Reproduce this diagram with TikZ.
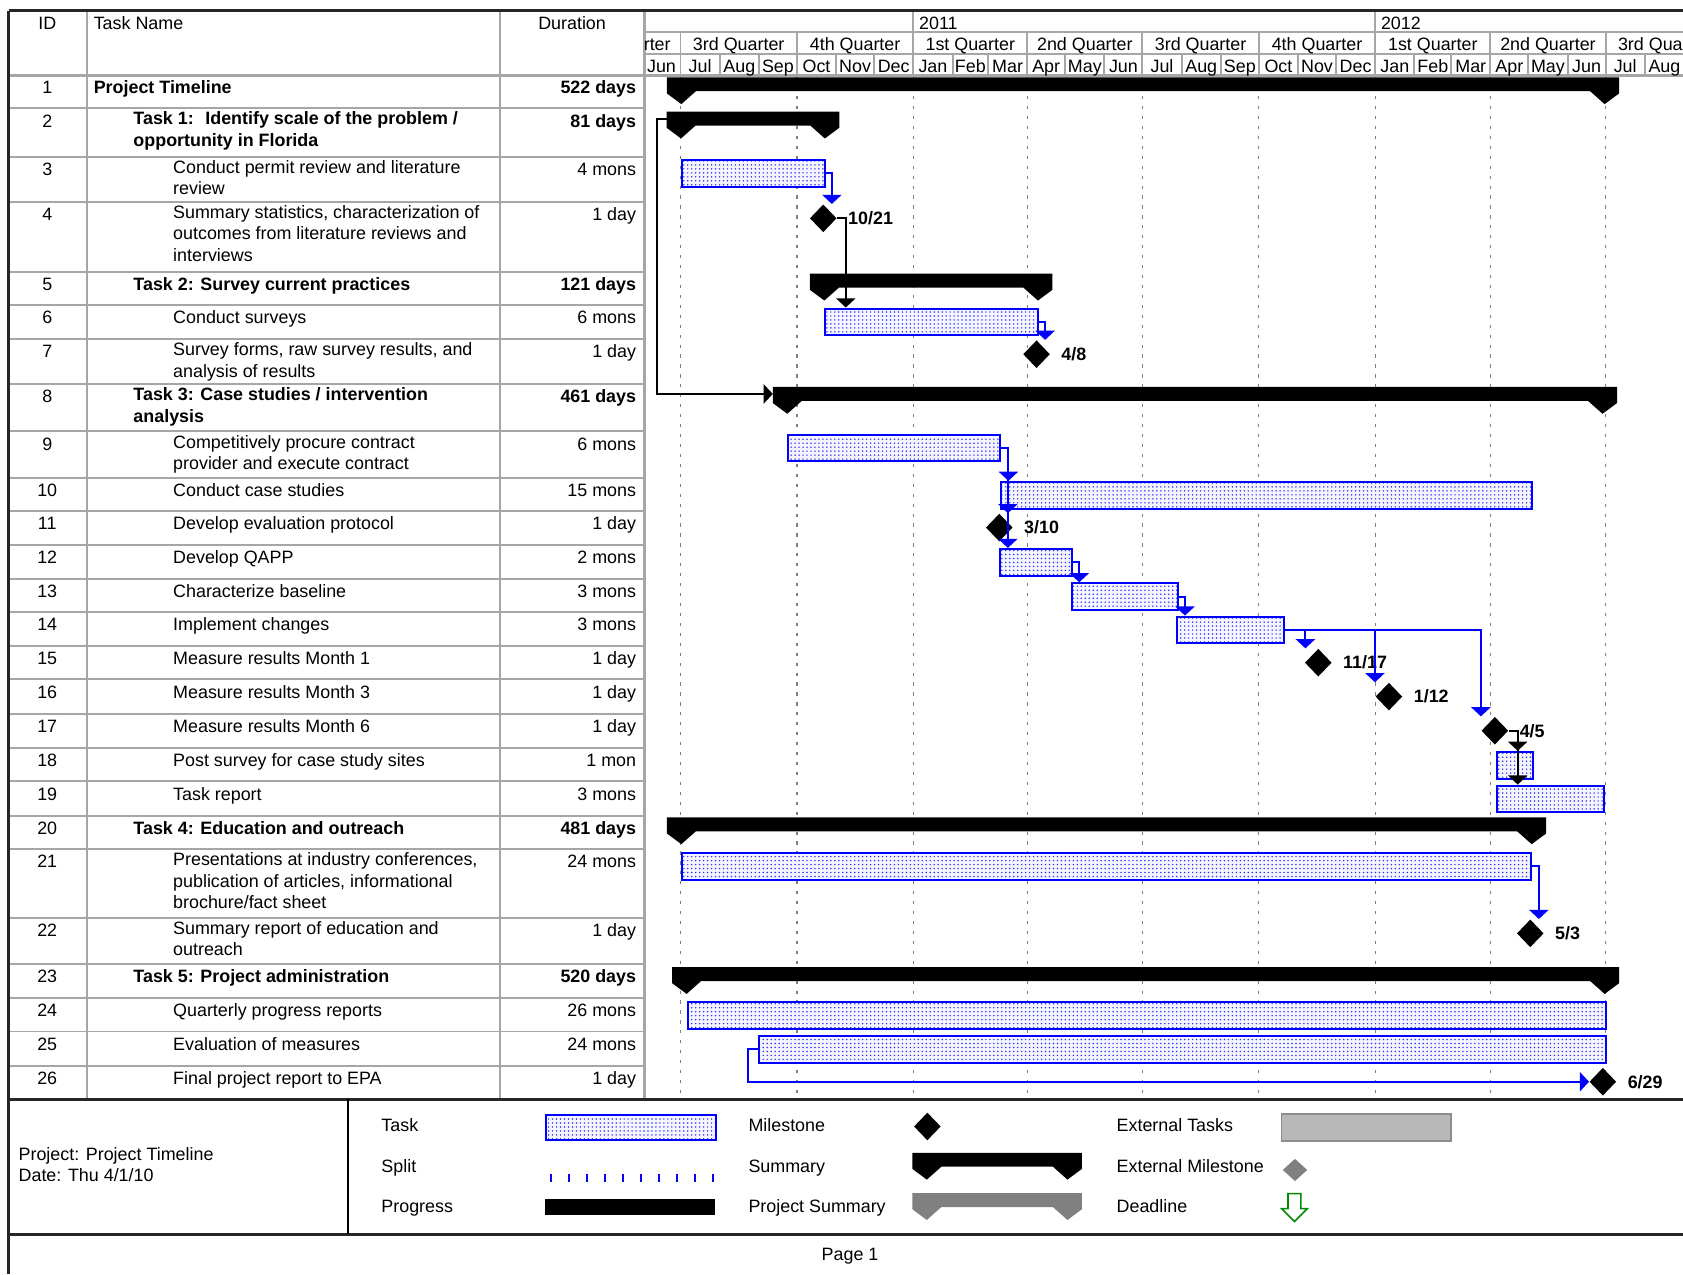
\documentclass[tikz,border=0pt]{standalone}
\usepackage{fontspec}
\setmainfont{Liberation Sans}
\usetikzlibrary{positioning,calc,shapes.geometric,arrows.meta,patterns.meta}
\newcommand\pxl{0.54pt}
\newcommand\dayx[1]{634+1.179*(#1)}

\begin{document}
\begin{tikzpicture}[x=\pxl, y=-\pxl, font=\fontsize{9}{10.8}\selectfont,
  cell/.style={inner sep=0pt, align=left, execute at begin node=\strut},
  sum/.style={font=\fontsize{9}{10.8}\selectfont\bfseries},
  tsk/.style={},
  txt/.style={inner sep=0pt, anchor=base west},
  hdr/.style={inner sep=0pt, anchor=base},
  rowline/.style={draw=black!35, line width=1pt},
  edgeline/.style={draw=black!85, line width=1.4pt},
  qline/.style={draw=black!50, line width=0.6pt, dash pattern=on 1.6pt off 3.4pt},
  taskbar/.style={draw=blue, line width=1pt, preaction={fill=blue!4}, pattern={Dots[distance=2pt, radius=0.42pt]}, pattern color=blue!80, inner sep=0pt, anchor=north west, minimum height=25*\pxl},
  ms/.style={diamond, fill=black, inner sep=0pt, minimum width=25*\pxl, minimum height=26*\pxl},
  mslabel/.style={inner sep=0pt, font=\fontsize{9}{10.8}\selectfont\bfseries},
  link/.style={draw=blue, line width=1pt, -{Triangle[width=9.6pt, length=4.6pt]}},
  blink/.style={link, draw=black}]
\useasboundingbox (0,0) rectangle (1568,1187);

\foreach \d in {0,92,184,274,365,457,549,640,731}
  \draw[qline] ({\dayx{\d}},71) -- ({\dayx{\d}},1023);

\foreach \y in {101,146,188,253,284,316,358,402,445,476,508,539,570,602,633,665,697,728,760,791,855,898,930,961,993}
  \draw[rowline] (8,\y) -- (600,\y);
\draw[rowline] (81,10) -- (81,1024) (466,10) -- (466,1024);
\draw[rowline, line width=1.5pt] (600,10) -- (600,1024) (8,70) -- (1568,70);
\draw[rowline] (600,30) -- (1568,30) (600,50) -- (1568,50);

\begin{scope}
  \clip (600,10) rectangle (1568,70);
  \foreach \y/\a in {2011/184, 2012/549}{
    \draw[rowline] ({\dayx{\a}},10) -- ({\dayx{\a}},30);
    \node[txt] (yr\y) at ({\dayx{\a}+5},27.3) {\y};
  }
  \foreach \q/\a/\b in {2nd/-91/0, 3rd/0/92, 4th/92/184, 1st/184/274, 2nd/274/365, 3rd/365/457, 4th/457/549, 1st/549/640, 2nd/640/731, 3rd/731/823}{
    \draw[rowline] ({\dayx{\a}},30) -- ({\dayx{\a}},50);
    \node[hdr] (q\a) at ({\dayx{(\a+\b)/2}},46.6) {\q{} Quarter};
  }
  \foreach \m/\a/\b in {Jun/-30/0, Jul/0/31, Aug/31/62, Sep/62/92, Oct/92/123, Nov/123/153, Dec/153/184, Jan/184/215, Feb/215/243, Mar/243/274, Apr/274/304, May/304/335, Jun/335/365, Jul/365/396, Aug/396/427, Sep/427/457, Oct/457/488, Nov/488/518, Dec/518/549, Jan/549/580, Feb/580/609, Mar/609/640, Apr/640/670, May/670/701, Jun/701/731, Jul/731/762, Aug/762/793}{
    \draw[rowline] ({\dayx{\b}},50) -- ({\dayx{\b}},70);
    \node[hdr] (mo\a) at ({\dayx{(\a+\b)/2}},67.7) {\m};
  }
\end{scope}

\draw[edgeline] (8,10) -- (1568,10) (8,10) -- (8,1187);
\draw[edgeline] (8,1024) -- (1568,1024) (8,1150) -- (1568,1150);
\draw[black, line width=0.8pt] (324,1024) -- (324,1150);

\node[cell, anchor=north] (hid) at (44,13) {ID};
\node[cell, anchor=north west] (hname) at (87,13) {Task Name};
\node[cell, anchor=north] (hdur) at (533,13) {Duration};

\foreach \n/\t/\x/\f/\d/\s in {
  1/70/87/sum/522 days/Project Timeline,
  2/101/124/sum/81 days/{Task 1: \ Identify scale of the problem /\\opportunity in Florida},
  3/146/161/tsk/4 mons/{Conduct permit review and literature\\review},
  4/188/161/tsk/1 day/{Summary statistics, characterization of\\outcomes from literature reviews and\\interviews},
  5/253/124/sum/121 days/Task 2: Survey current practices,
  6/284/161/tsk/6 mons/Conduct surveys,
  7/316/161/tsk/1 day/{Survey forms, raw survey results, and\\analysis of results},
  8/358/124/sum/461 days/{Task 3: Case studies / intervention\\analysis},
  9/402/161/tsk/6 mons/{Competitively procure contract\\provider and execute contract},
  10/445/161/tsk/15 mons/Conduct case studies,
  11/476/161/tsk/1 day/Develop evaluation protocol,
  12/508/161/tsk/2 mons/Develop QAPP,
  13/539/161/tsk/3 mons/Characterize baseline,
  14/570/161/tsk/3 mons/Implement changes,
  15/602/161/tsk/1 day/Measure results Month 1,
  16/633/161/tsk/1 day/Measure results Month 3,
  17/665/161/tsk/1 day/Measure results Month 6,
  18/697/161/tsk/1 mon/Post survey for case study sites,
  19/728/161/tsk/3 mons/Task report,
  20/760/124/sum/481 days/Task 4: Education and outreach,
  21/791/161/tsk/24 mons/{Presentations at industry conferences,\\publication of articles, informational\\brochure/fact sheet},
  22/855/161/tsk/1 day/{Summary report of education and\\outreach},
  23/898/124/sum/520 days/Task 5: Project administration,
  24/930/161/tsk/26 mons/Quarterly progress reports,
  25/961/161/tsk/24 mons/Evaluation of measures,
  26/993/161/tsk/1 day/Final project report to EPA}{
  \node[cell, anchor=north] (id\n) at (44,\t+3) {\n};
  \node[cell, \f, anchor=north west] (nm\n) at (\x,\t+3) {\s};
  \node[cell, \f, anchor=north east] (du\n) at (593,\t+3) {\d};
}

\foreach \n/\s/\e/\t/\c in {1/634.8/1495/72/black, 2/634.5/768.5/104/black, 5/768/967/255/black, 8/733.5/1493/360.5/black, 20/634.8/1427/761.5/black, 23/639.7/1495/901/black, lgs/863.5/994.5/1074/black, lgp/863.5/994.5/1111.6/black!50}{
  \fill[fill=\c] (\s-13.5,\t) -- (\e+13.5,\t) -- (\e+13.5,\t+15) -- (\e,\t+25) -- (\e-13.5,\t+13)
    -- (\s+13.5,\t+13) -- (\s,\t+25) -- (\s-13.5,\t+15) -- cycle;
  \coordinate (s\n) at (\s-13.5,\t+6.5);
}

\foreach \n/\a/\b/\t in {3/634.5/767.5/148, 6/768/966/286.5, 9/733/931/404, 10/931.5/1426/448, 12/931/997.5/510.5, 13/997.5/1096.3/542.5, 14/1096/1195.6/573.5, 18/1394/1427/699.5, 19/1394/1493/731, 21/634.8/1425.7/793.5, 24/639.7/1495/932.5, 25/706/1495/964}
  \node[taskbar, minimum width={(\b-\a)*\pxl}] (t\n) at (\a,\t) {};

\foreach \n/\x/\y in {4/767/203.4, 7/965.7/330, 11/931/491.5, 15/1228.2/617.4, 16/1294/649, 17/1392.7/680.8, 22/1425.7/869.6, 26/1493.3/1007.8}
  \node[ms] (m\n) at (\x,\y) {};
\node[mslabel, right=5.4pt of m4] (l4) {10/21};
\node[mslabel, right=5.4pt of m7] (l7) {4/8};
\node[mslabel, right=5.4pt of m11] (l11) {3/10};
\node[mslabel, right=5.4pt of m15] (l15) {11/17};
\node[mslabel, right=5.4pt of m16] (l16) {1/12};
\node[mslabel, right=5.4pt of m17] (l17) {4/5};
\node[mslabel, right=5.4pt of m22] (l22) {5/3};
\node[mslabel, right=5.4pt of m26] (l26) {6/29};

\draw[link] (t3.east) -| ($(m4.north)+(8,0)$);
\draw[link] (t6.east) -| ($(m7.north)+(8,0)$);
\draw[link] (t9.east) -| ($(t10.north west)+(8,0)$);
\draw[link] (t9.east) -| ($(m11.north)+(8,0)$);
\draw[link] (t9.east) -| ($(t12.north west)+(8,0)$);
\draw[link] (t12.east) -| ($(t13.north west)+(8,0)$);
\draw[link] (t13.east) -| ($(t14.north west)+(8,0)$);
\draw[link] (t14.east) -| ($(m15.north)+(-12,0)$);
\draw[link] (t14.east) -| ($(m16.north)+(-13,0)$);
\draw[link] (t14.east) -| ($(m17.north)+(-13,0)$);
\draw[link] (t21.east) -| ($(m22.north)+(8,0)$);
\draw[link] (t25.west) -- ++(-9,0) |- (m26.west);
\draw[blink] (m4.east) -| ($(t6.north west)+(20,0)$);
\draw[blink] (m17.east) -| ($(t18.north west)+(20,0)$);
\draw[blink] (m17.east) -| ($(t19.north west)+(20,0)$);
\draw[blink] (s2) -- ++(-9,0) |- (s8);

\node[cell, anchor=north west] (proj) at (17,1068.5) {Project: Project Timeline\\Date: Thu 4/1/10};
\node[txt] (lg1) at (355,1054.5) {Task};
\node[taskbar, minimum width=158*\pxl, minimum height=24*\pxl] (lgtask) at (508,1037.5) {};
\node[txt] (lg2) at (355,1092.5) {Split};
\foreach \i in {0,...,9}
  \draw[blue, line width=1.1pt] (513+16.8*\i,1094) -- ++(0,7);
\node[txt] (lg3) at (355,1129.5) {Progress};
\fill (508,1117.5) rectangle (666,1132);
\node[txt] (lg4) at (697,1054.5) {Milestone};
\node[ms] (lgms) at (864,1049.5) {};
\node[txt] (lg5) at (697,1092.5) {Summary};
\node[txt] (lg6) at (697,1129.5) {Project Summary};
\node[txt] (lg7) at (1040,1054.5) {External Tasks};
\node[draw=black!45, fill=black!28, line width=1pt, inner sep=0pt, anchor=north west, minimum width=158*\pxl, minimum height=25*\pxl] (lgext) at (1193,1037) {};
\node[txt] (lg8) at (1040,1092.5) {External Milestone};
\node[ms, fill=black!50, minimum width=23*\pxl, minimum height=21*\pxl] (lgxms) at (1206.5,1090) {};
\node[txt] (lg9) at (1040,1129.5) {Deadline};
\draw[green!55!black, line width=0.8pt] (1200,1112) -- (1212,1112) -- (1212,1126) -- (1218,1126)
  -- (1206,1138) -- (1194,1126) -- (1200,1126) -- cycle;
\node[hdr] (pg) at (792,1174.5) {Page 1};
\end{tikzpicture}
\end{document}
